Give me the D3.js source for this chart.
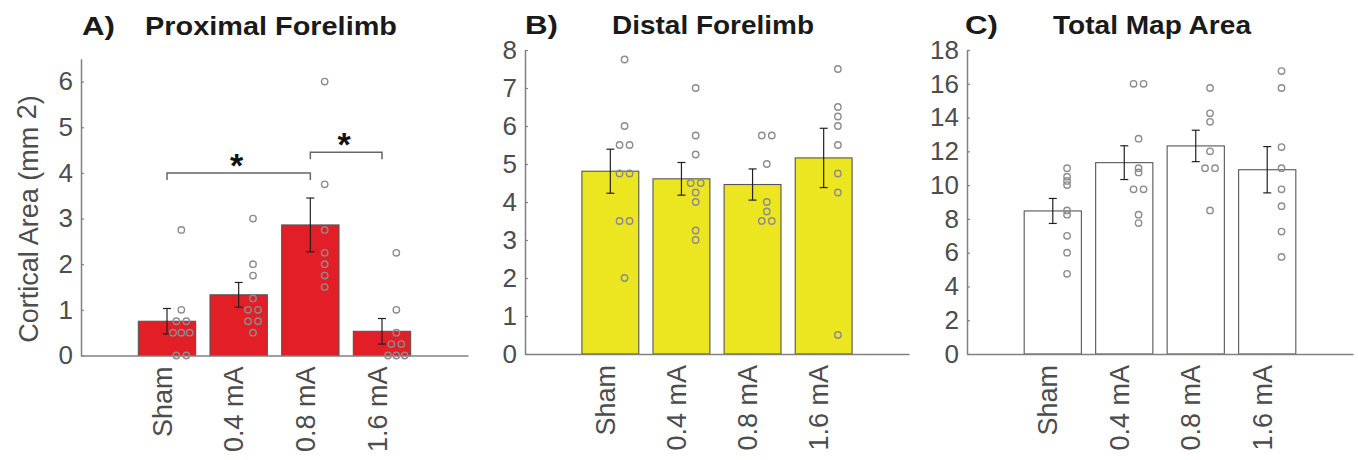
<!DOCTYPE html>
<html>
<head>
<meta charset="utf-8">
<script src="https://cdn.jsdelivr.net/npm/d3@7"></script>
<style>
  html, body { margin: 0; padding: 0; background: #fff; }
  svg { display: block; font-family: "Liberation Sans", Arial, sans-serif; }
</style>
</head>
<body>
<svg id="chart" width="1358" height="460"></svg>
<script>
// ---------------- data ----------------
const categories = ["Sham", "0.4 mA", "0.8 mA", "1.6 mA"];

const proximalMeans = [0.75, 1.33, 2.86, 0.53];
const proximalSEM   = [0.28, 0.27, 0.59, 0.28];
const proximalPoints = [
  [2.75, 1.0, 0.75, 0.75, 0.5, 0.5, 0.5, 0, 0],
  [3.0, 2.0, 1.75, 1.25, 1.0, 1.0, 0.75, 0.75, 0.5],
  [6.0, 3.75, 2.75, 2.25, 2.0, 1.75, 1.5],
  [2.25, 1.0, 0.5, 0.25, 0.25, 0, 0, 0]
];
const proximalTicks = [0, 1, 2, 3, 4, 5, 6];
const proximalSig = [
  { from: 0, to: 2, level: 4.0, label: "*" },
  { from: 2, to: 3, level: 4.45, label: "*" }
];

const distalMeans = [4.81, 4.61, 4.46, 5.16];
const distalSEM   = [0.58, 0.43, 0.41, 0.78];
const distalPoints = [
  [7.75, 6.0, 5.5, 5.5, 4.75, 4.75, 3.5, 3.5, 2.0],
  [7.0, 5.75, 5.25, 4.5, 4.5, 4.25, 4.0, 3.25, 3.0],
  [5.75, 5.75, 5.0, 4.0, 3.75, 3.5, 3.5],
  [7.5, 6.5, 6.25, 6.0, 5.5, 4.75, 4.25, 0.5]
];
const distalTicks = [0, 1, 2, 3, 4, 5, 6, 7, 8];

const totalMeans = [8.47, 11.33, 12.32, 10.91];
const totalSEM   = [0.74, 1.0, 0.93, 1.37];
const totalPoints = [
  [11.0, 10.5, 10.25, 10.0, 8.5, 8.25, 7.0, 6.0, 4.75],
  [16.0, 16.0, 12.75, 11.0, 10.75, 9.75, 9.75, 8.25, 7.75],
  [15.75, 14.25, 13.75, 12.0, 11.0, 11.0, 8.5],
  [16.75, 15.75, 12.25, 11.0, 9.75, 8.75, 7.25, 5.75]
];
const totalTicks = [0, 2, 4, 6, 8, 10, 12, 14, 16, 18];

const panelLetters = ["A)", "B)", "C)"];
const panelTitles = ["Proximal Forelimb", "Distal Forelimb", "Total Map Area"];
const yAxisLabel = "Cortical Area (mm";
const yAxisLabelSup = "2";

// ---------------- layout / style ----------------
const svg = d3.select("#chart");
const FONT = "'Liberation Sans', Arial, sans-serif";
const axisColor = "#808080";
const tickTextColor = "#4d4d4d";

const panels = [
  { means: proximalMeans, sem: proximalSEM, points: proximalPoints, ticks: proximalTicks,
    yMax: 6.5, x0: 81, x1: 468, y0: 355.5, y1: 58.8, fill: "#e21f26", sig: proximalSig,
    letterX: 82, titleX: 145, titleW: 252, letterW: 33, titleY: 35 },
  { means: distalMeans, sem: distalSEM, points: distalPoints, ticks: distalTicks,
    yMax: 8, x0: 525, x1: 909, y0: 354, y1: 50, fill: "#ebe61f", sig: [],
    letterX: 525, titleX: 612, titleW: 202, letterW: 33, titleY: 34 },
  { means: totalMeans, sem: totalSEM, points: totalPoints, ticks: totalTicks,
    yMax: 18, x0: 967, x1: 1353, y0: 354, y1: 50, fill: "#ffffff", sig: [],
    letterX: 965, titleX: 1053, titleW: 198, letterW: 33, titleY: 34 }
];

panels.forEach((p, pi) => {
  const g = svg.append("g");
  const x = d3.scaleLinear().domain([-0.2, 5.2]).range([p.x0, p.x1]);
  const y = d3.scaleLinear().domain([0, p.yMax]).range([p.y0, p.y1]);
  const step = x(2) - x(1);
  const barW = step * 0.8;

  // bars
  g.selectAll("rect.bar").data(p.means).join("rect")
    .attr("class", "bar")
    .attr("x", (d, i) => x(i + 1) - barW / 2)
    .attr("y", d => y(d))
    .attr("width", barW)
    .attr("height", d => y(0) - y(d))
    .attr("fill", p.fill)
    .attr("stroke", "#555")
    .attr("stroke-width", 1.1);

  // error bars
  const eb = g.selectAll("g.eb").data(p.means).join("g").attr("class", "eb");
  const cap = 4;
  eb.append("line")
    .attr("x1", (d, i) => x(i + 1)).attr("x2", (d, i) => x(i + 1))
    .attr("y1", (d, i) => y(d + p.sem[i])).attr("y2", (d, i) => y(d - p.sem[i]));
  eb.append("line")
    .attr("x1", (d, i) => x(i + 1) - cap).attr("x2", (d, i) => x(i + 1) + cap)
    .attr("y1", (d, i) => y(d + p.sem[i])).attr("y2", (d, i) => y(d + p.sem[i]));
  eb.append("line")
    .attr("x1", (d, i) => x(i + 1) - cap).attr("x2", (d, i) => x(i + 1) + cap)
    .attr("y1", (d, i) => y(d - p.sem[i])).attr("y2", (d, i) => y(d - p.sem[i]));
  eb.selectAll("line").attr("stroke", "#222").attr("stroke-width", 1.2);

  // y axis
  const yAxis = d3.axisLeft(y).tickValues(p.ticks).tickSizeInner(-3).tickSizeOuter(0)
    .tickPadding(8).tickFormat(d3.format("d"));
  const ya = g.append("g").attr("transform", `translate(${p.x0},0)`).call(yAxis);
  ya.select(".domain").attr("stroke", axisColor).attr("stroke-width", 1.5);
  ya.selectAll(".tick line").attr("stroke", axisColor).attr("stroke-width", 1.2);
  ya.selectAll(".tick text").attr("fill", tickTextColor).style("font-size", "26px")
    .style("font-family", FONT);

  // x axis
  const xAxis = d3.axisBottom(x).tickValues([1, 2, 3, 4]).tickSize(0).tickSizeOuter(0)
    .tickFormat((d) => categories[d - 1]);
  const xa = g.append("g").attr("transform", `translate(0,${p.y0})`).call(xAxis);
  xa.select(".domain").attr("stroke", axisColor).attr("stroke-width", 1.5);
  xa.selectAll(".tick text")
    .attr("transform", "rotate(-90)")
    .attr("text-anchor", "end")
    .attr("x", -11).attr("y", 4).attr("dy", 0)
    .attr("fill", tickTextColor).style("font-size", "27px").style("font-family", FONT);

  // data points
  p.points.forEach((vals, ci) => {
    const counts = d3.rollup(vals, v => v.length, d => d);
    const seen = new Map();
    const cx0 = x(ci + 1) + step * 0.2;
    const pts = vals.map(v => {
      const n = counts.get(v);
      const j = seen.get(v) || 0;
      seen.set(v, j + 1);
      const spacing = n === 2 ? 10 : 8.3;
      return { v, cx: cx0 + (j - (n - 1) / 2) * spacing };
    });
    g.selectAll(null).data(pts).join("circle")
      .attr("cx", d => d.cx).attr("cy", d => y(d.v)).attr("r", 3.2)
      .attr("fill", "none").attr("stroke", "#8c8c8c").attr("stroke-width", 1.4);
  });

  // significance brackets
  p.sig.forEach(s => {
    const xa1 = x(s.from + 1), xa2 = x(s.to + 1), yy = y(s.level);
    g.append("path")
      .attr("d", `M${xa1},${yy + 7}V${yy}H${xa2}V${yy + 7}`)
      .attr("fill", "none").attr("stroke", "#666").attr("stroke-width", 1.5);
    g.append("text")
      .attr("x", (xa1 + xa2) / 2 - 2).attr("y", yy + 4)
      .attr("text-anchor", "middle")
      .style("font-size", "34px").style("font-weight", "bold").style("font-family", FONT)
      .attr("fill", "#111").text(s.label);
  });

  // titles
  g.append("text").attr("x", p.letterX).attr("y", p.titleY)
    .attr("textLength", p.letterW).attr("lengthAdjust", "spacingAndGlyphs")
    .style("font-size", "26px").style("font-weight", "bold").style("font-family", FONT)
    .attr("fill", "#1a1a1a").text(panelLetters[pi]);
  g.append("text").attr("x", p.titleX).attr("y", p.titleY)
    .attr("textLength", p.titleW).attr("lengthAdjust", "spacingAndGlyphs")
    .style("font-size", "25px").style("font-weight", "bold").style("font-family", FONT)
    .attr("fill", "#1a1a1a").text(panelTitles[pi]);
});

// y axis label (panel A)
const yl = svg.append("text")
  .attr("transform", "translate(38,219) rotate(-90)")
  .attr("text-anchor", "middle")
  .style("font-size", "27px").style("font-family", FONT)
  .attr("fill", tickTextColor);
yl.append("tspan").text(yAxisLabel + " ");
yl.append("tspan").attr("dy", -2).text(yAxisLabelSup);
yl.append("tspan").attr("dy", 2).text(")");
</script>
</body>
</html>
